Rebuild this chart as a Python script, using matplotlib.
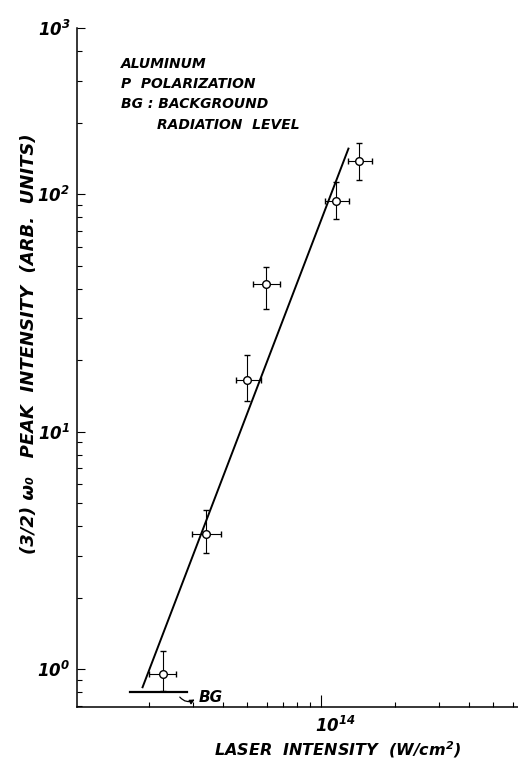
import numpy as np
import matplotlib
matplotlib.use("Agg")
import matplotlib.pyplot as plt
from matplotlib.ticker import FixedLocator, LogLocator, NullFormatter
from matplotlib.transforms import ScaledTranslation

plt.rcParams['font.family'] = ['DejaVu Sans']
plt.rcParams['mathtext.default'] = 'regular'

# data
laser = np.array([2.28e13, 3.41e13, 5.0e13, 5.96e13, 1.15e14, 1.43e14])
laser_lo = np.array([2.0e13, 2.99e13, 4.50e13, 5.27e13, 1.04e14, 1.28e14])
laser_hi = np.array([2.57e13, 3.92e13, 5.70e13, 6.77e13, 1.30e14, 1.61e14])
peak = np.array([0.95, 3.69, 16.5, 41.9, 93.5, 137.6])
peak_lo = np.array([0.81, 3.07, 13.5, 32.9, 78.5, 115.0])
peak_hi = np.array([1.19, 4.66, 21.0, 49.5, 113.0, 164.0])

fit_x = [1.88e13, 1.29e14]
fit_y = [0.838, 155.6]

bg_x = [1.67e13, 2.85e13]
bg_level = 0.80

y_ticks = [1, 10, 100, 500]
y_ticklabels = ['$10^{0}$', '$10^{1}$', '$10^{2}$', '$10^{3}$']
x_ticks = [1e14]
x_ticklabels = ['$10^{14}$']

notes = ['ALUMINUM', 'P  POLARIZATION', 'BG : BACKGROUND']

lettering = dict(fontweight='bold', fontstyle='italic')

fig = plt.figure(figsize=(5.18, 7.63), dpi=100)
ax = fig.add_axes([0.149, 0.073, 0.851, 0.890])

ax.set_xscale('log')
ax.set_yscale('log')
ax.set_xlim(1.02e13, 6.3e14)
ax.set_ylim(0.69, 500)

ax.errorbar(laser, peak,
            xerr=[laser - laser_lo, laser_hi - laser],
            yerr=[peak - peak_lo, peak_hi - peak],
            fmt='o', ms=5.5, mfc='white', mec='black', mew=1.0,
            ecolor='black', elinewidth=0.8, capsize=2.5, capthick=0.8, zorder=3)

ax.plot(fit_x, fit_y, color='black', lw=1.4)
ax.plot(bg_x, [bg_level, bg_level], color='black', lw=1.6)

# BG hook arrow + label
ax.annotate('', xy=(3.13e13, 0.755), xytext=(2.62e13, 0.778),
            arrowprops=dict(arrowstyle='-|>', color='black', lw=0.9,
                            mutation_scale=7,
                            connectionstyle='arc3,rad=0.5'))
ax.text(3.18e13, 0.757, 'BG', fontsize=11, ha='left', va='center', **lettering)

# spines
ax.spines['top'].set_visible(False)
ax.spines['right'].set_visible(False)
ax.spines['left'].set_linewidth(1.1)
ax.spines['bottom'].set_linewidth(1.1)

# ticks
ax.yaxis.set_major_locator(FixedLocator(y_ticks))
ax.set_yticklabels(y_ticklabels, fontsize=12, **lettering)
ax.yaxis.set_minor_locator(LogLocator(base=10, subs=range(2, 10)))
ax.yaxis.set_minor_formatter(NullFormatter())

ax.xaxis.set_major_locator(FixedLocator(x_ticks))
ax.set_xticklabels(x_ticklabels, fontsize=12, **lettering)
ax.xaxis.set_minor_locator(LogLocator(base=10, subs=range(2, 10)))
ax.xaxis.set_minor_formatter(NullFormatter())

ax.tick_params(which='both', direction='in', width=0.8)
ax.tick_params(axis='y', which='major', length=6, pad=5)
ax.tick_params(axis='x', which='major', length=9, pad=6)
ax.tick_params(which='minor', length=3.5)

for lbl in ax.get_xticklabels():
    lbl.set_horizontalalignment('left')
    lbl.set_transform(lbl.get_transform() + ScaledTranslation(-0.06, 0, fig.dpi_scale_trans))

# axis labels
ax.set_xlabel('LASER  INTENSITY  (W/cm$^{2}$)', fontsize=11.5, **lettering)
ax.xaxis.set_label_coords(0.59, -0.047)
ax.set_ylabel('(3/2) ω₀   PEAK  INTENSITY  (ARB.  UNITS)', fontsize=13, **lettering)
ax.yaxis.set_label_coords(-0.09, 0.535)

# notes block
for i, line in enumerate(notes):
    ax.text(0.100, 0.948 - i * 0.030, line, transform=ax.transAxes,
            fontsize=10, ha='left', va='center', **lettering)
ax.text(0.180, 0.948 - 3 * 0.030, 'RADIATION  LEVEL', transform=ax.transAxes,
        fontsize=10, ha='left', va='center', **lettering)

fig.savefig('out.png', dpi=100)
